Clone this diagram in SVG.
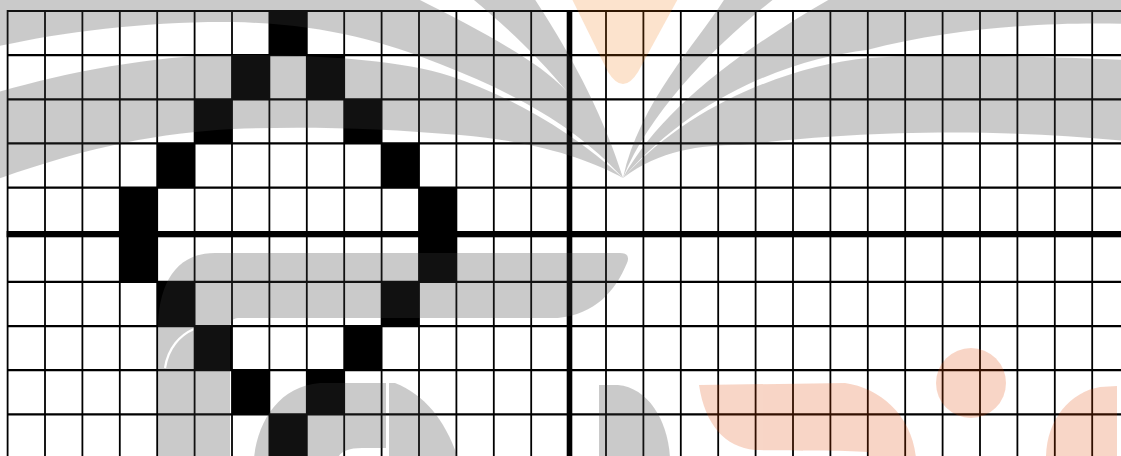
<svg xmlns="http://www.w3.org/2000/svg" width="1121" height="456" viewBox="0 0 1121 456">
  <style>
    .cell { fill: #000; }
    .hl { stroke: #000; stroke-width: 2.2; fill: none; }
    .vl { stroke: #000; stroke-width: 1.8; fill: none; }
    .axis { fill: #000; }
    .wm-gray { fill: #404040; }
    .wm-orange-top { fill: #f07305; }
    .wm-orange { fill: #e14600; }
  </style>
  <defs>
    <mask id="gapmask" maskUnits="userSpaceOnUse" x="0" y="0" width="1121" height="456">
      <rect x="0" y="0" width="1121" height="456" fill="#fff"/>
      <path d="M194,329 C180,335 168,348 165,368" stroke="#000" stroke-width="2.2" fill="none"/>
    </mask>
  </defs>

  <rect id="background" x="0" y="0" width="1121" height="456" fill="#fff"/>

  <g id="cells">
    <rect class="cell" x="269.4" y="11" width="37.4" height="44.15"/>
    <rect class="cell" x="232" y="55.15" width="37.4" height="44.15"/>
    <rect class="cell" x="306.8" y="55.15" width="37.4" height="44.15"/>
    <rect class="cell" x="194.6" y="99.3" width="37.4" height="44.15"/>
    <rect class="cell" x="344.2" y="99.3" width="37.4" height="44.15"/>
    <rect class="cell" x="157.2" y="143.45" width="37.4" height="44.15"/>
    <rect class="cell" x="381.6" y="143.45" width="37.4" height="44.15"/>
    <rect class="cell" x="119.8" y="187.6" width="37.4" height="46.6"/>
    <rect class="cell" x="419" y="187.6" width="37.4" height="46.6"/>
    <rect class="cell" x="119.8" y="234.2" width="37.4" height="47.7"/>
    <rect class="cell" x="419" y="234.2" width="37.4" height="47.7"/>
    <rect class="cell" x="157.2" y="281.9" width="37.4" height="44.15"/>
    <rect class="cell" x="381.6" y="281.9" width="37.4" height="44.15"/>
    <rect class="cell" x="194.6" y="326.05" width="37.4" height="44.15"/>
    <rect class="cell" x="344.2" y="326.05" width="37.4" height="44.15"/>
    <rect class="cell" x="232" y="370.2" width="37.4" height="44.15"/>
    <rect class="cell" x="306.8" y="370.2" width="37.4" height="44.15"/>
    <rect class="cell" x="269.4" y="414.35" width="37.4" height="44.15"/>
  </g>

  <g id="grid">
    <path class="hl" d="M7.6,11 H1121 M7.6,55.15 H1121 M7.6,99.3 H1121 M7.6,143.45 H1121 M7.6,187.6 H1121 M7.6,281.9 H1121 M7.6,326.05 H1121 M7.6,370.2 H1121 M7.6,414.35 H1121"/>
    <path class="vl" d="M7.6,10 V456 M45,10 V456 M82.4,10 V456 M119.8,10 V456 M157.2,10 V456 M194.6,10 V456 M232,10 V456 M269.4,10 V456 M306.8,10 V456 M344.2,10 V456 M381.6,10 V456 M419,10 V456 M456.4,10 V456 M493.8,10 V456 M531.2,10 V456 M606,10 V456 M643.4,10 V456 M680.8,10 V456 M718.2,10 V456 M755.6,10 V456 M793,10 V456 M830.4,10 V456 M867.8,10 V456 M905.2,10 V456 M942.6,10 V456 M980,10 V456 M1017.4,10 V456 M1054.8,10 V456 M1092.2,10 V456"/>
    <rect class="axis" x="6.6" y="231" width="1114.4" height="6.3"/>
    <rect class="axis" x="566.7" y="10" width="5.6" height="446"/>
  </g>

  <g id="watermark">
    <g class="wm-gray" opacity="0.27" mask="url(#gapmask)">
      <!-- left leaves -->
      <path d="M623,178 C590,160 540,142 460,135 C380,128 300,126 233,129 C160,133 90,146 -5,180 L-5,93 C60,74 150,55 233,55 C320,55 400,60 450,76 C510,96 570,130 623,178 Z"/>
      <path d="M623,178 C580,130 520,95 440,64 C380,40 320,24 233,22 C150,21 60,32 -5,47 L-5,-5 L410,-5 C450,15 500,40 540,68 C580,98 605,135 623,178 Z"/>
      <path d="M468,-5 C510,30 580,90 623,178 C605,120 575,60 532,-5 Z"/>
      <!-- right leaves -->
      <path d="M727,-5 C700,40 640,100 623,178 C650,110 720,40 779,-5 Z"/>
      <path d="M623,178 C660,110 740,50 837,-5 L1126,-5 L1126,24 C1060,22 960,26 867,50 C800,58 700,90 623,178 Z"/>
      <path d="M623,178 C660,150 700,145 740,145 C830,135 960,125 1126,141 L1126,60 C1040,56 930,54 867,58 C790,66 690,104 623,178 Z"/>
      <!-- lower letter shapes -->
      <path d="M158,458 L158,330 C158,285 175,253 215,253 L620,253 Q631,253 627,263 C615,292 595,314 558,318 L238,318 C233,318 230,322 230,328 L230,458 Z"/>
      <path d="M254,458 C258,420 280,386 320,383 L386,383 L386,448 L362,448 C348,448 340,452 338,458 Z"/>
      <path d="M389,383 L395,383 C425,395 445,420 458,458 L389,458 Z"/>
      <path d="M599,458 V385 H618 C648,388 668,420 670,458 Z"/>
    </g>
    <path class="wm-orange-top" opacity="0.2" d="M570,-5 L680,-5 L638,72 Q623,96 608,72 Z"/>
    <g class="wm-orange" opacity="0.22">
      <path d="M699,385 L845,383 C880,388 912,415 916,458 L868,458 L868,452 C840,450 790,451 755,450 C725,447 705,425 699,385 Z"/>
      <circle cx="971" cy="383" r="35"/>
      <path d="M1046,458 C1046,420 1070,392 1100,387 L1117,386 L1117,458 Z"/>
    </g>
  </g>
</svg>
